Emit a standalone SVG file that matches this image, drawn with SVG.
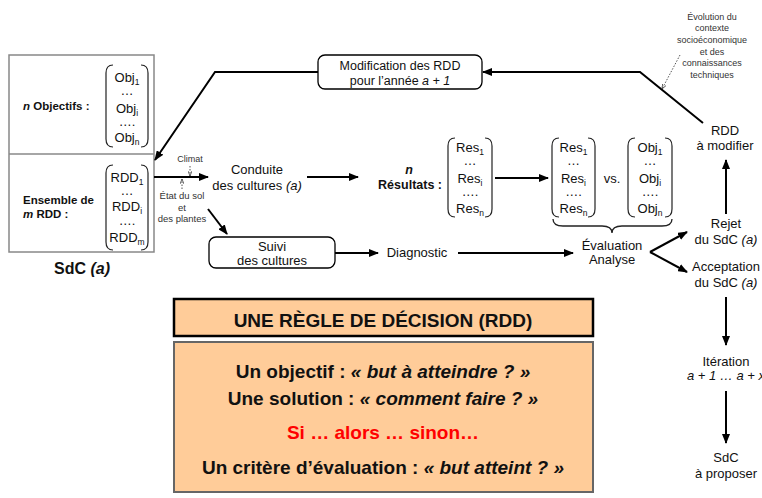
<svg xmlns="http://www.w3.org/2000/svg" width="762" height="498" viewBox="0 0 762 498">
<defs>
<marker id="ah" markerWidth="10" markerHeight="8" refX="9" refY="4" orient="auto" markerUnits="userSpaceOnUse"><path d="M0,0 L10,4 L0,8 z" fill="#000"/></marker>
<marker id="ahs" markerWidth="5" markerHeight="4" refX="5" refY="2" orient="auto" markerUnits="userSpaceOnUse"><path d="M0,0 L5,2 L0,4" fill="none" stroke="#444" stroke-width="0.8"/></marker>
<style>
text{font-family:"Liberation Sans",Arial,sans-serif;fill:#111;}
.t{font-size:13px;text-anchor:middle}
.m{font-size:12.5px;text-anchor:middle}
.sm{font-size:9px;text-anchor:middle;fill:#333}
.lbl{font-size:11.5px;font-weight:bold}
.conn{stroke:#000;stroke-width:2;fill:none}
.dot{stroke:#555;stroke-width:1;stroke-dasharray:1.5 1.5;fill:none}
.par{stroke:#222;stroke-width:1.2;fill:none}
.big{font-size:19px;font-weight:bold;text-anchor:middle}
.sub{font-size:8.5px}
.box{fill:#fff;stroke:#000;stroke-width:1.3}
.peach{fill:#FFCC99}
</style>
</defs>

<g id="sdc">
<rect x="9" y="55" width="145" height="197" fill="#fff" stroke="#888" stroke-width="1.5"/>
<line x1="9" y1="154" x2="154" y2="154" stroke="#888" stroke-width="1.5"/>
<text class="lbl" x="23" y="110"><tspan font-style="italic">n</tspan> Objectifs :</text>
<text class="lbl" x="23" y="204">Ensemble de</text>
<text class="lbl" x="23" y="218"><tspan font-style="italic">m</tspan> RDD :</text>
<path class="par" d="M113,65 Q106,65 106,73 L106,139 Q106,147 113,147"/>
<path class="par" d="M141,65 Q148,65 148,73 L148,139 Q148,147 141,147"/>
<text class="t" x="127" y="82">Obj<tspan class="sub" dy="3">1</tspan></text>
<text class="t" x="127" y="95">…</text>
<text class="t" x="127" y="113">Obj<tspan class="sub" dy="3">i</tspan></text>
<text class="t" x="127" y="126">….</text>
<text class="t" x="127" y="142">Obj<tspan class="sub" dy="3">n</tspan></text>
<path class="par" d="M113,165 Q106,165 106,173 L106,242 Q106,250 113,250"/>
<path class="par" d="M141,165 Q148,165 148,173 L148,242 Q148,250 141,250"/>
<text class="t" x="127" y="182">RDD<tspan class="sub" dy="3">1</tspan></text>
<text class="t" x="127" y="195">…</text>
<text class="t" x="127" y="211">RDD<tspan class="sub" dy="3">i</tspan></text>
<text class="t" x="127" y="225">….</text>
<text class="t" x="127" y="242">RDD<tspan class="sub" dy="3">m</tspan></text>
<text x="82" y="274" style="font-size:16px;font-weight:bold;text-anchor:middle">SdC <tspan font-style="italic">(a)</tspan></text>
</g>

<g id="connectors">
<line class="conn" x1="154" y1="177" x2="208" y2="177" marker-end="url(#ah)"/>
<line class="conn" x1="307" y1="177" x2="358" y2="177" marker-end="url(#ah)"/>
<line class="conn" x1="208" y1="209" x2="227" y2="234" marker-end="url(#ah)"/>
<line class="conn" x1="335" y1="253" x2="378" y2="253" marker-end="url(#ah)"/>
<line class="conn" x1="458" y1="253" x2="573" y2="253" marker-end="url(#ah)"/>
<line class="conn" x1="495" y1="178" x2="548" y2="178" marker-end="url(#ah)"/>
<line class="conn" x1="650" y1="252" x2="687" y2="232" marker-end="url(#ah)"/>
<line class="conn" x1="650" y1="252" x2="687" y2="272" marker-end="url(#ah)"/>
<line class="conn" x1="726" y1="214" x2="726" y2="160" marker-end="url(#ah)"/>
<line class="conn" x1="726" y1="297" x2="726" y2="345" marker-end="url(#ah)"/>
<line class="conn" x1="726" y1="391" x2="726" y2="443" marker-end="url(#ah)"/>
<polyline class="conn" points="703,123 640,72 483,72" marker-end="url(#ah)"/>
<polyline class="conn" points="318,72 215,72 155,160" marker-end="url(#ah)"/>
<line class="dot" x1="680" y1="55" x2="662" y2="89" marker-end="url(#ahs)"/>
<line class="dot" x1="190" y1="166" x2="190" y2="176" marker-end="url(#ahs)"/>
<line class="dot" x1="182" y1="189" x2="182" y2="179" marker-end="url(#ahs)"/>
<path d="M553,219 Q553,226 563,226 L602,226 Q612,226 612,233 Q612,226 622,226 L662,226 Q672,226 672,219" fill="none" stroke="#222" stroke-width="1.3"/>
</g>

<g id="climat">
<text class="sm" x="190" y="162">Climat</text>
</g>
<g id="etat">
<text class="sm" x="182" y="199" style="font-size:9.5px">État du sol</text>
<text class="sm" x="182" y="211" style="font-size:9.5px">et</text>
<text class="sm" x="182" y="222" style="font-size:9.5px">des plantes</text>
</g>

<g id="conduite">
<text class="t" x="257" y="174">Conduite</text>
<text class="t" x="257" y="190">des cultures <tspan font-style="italic">(a)</tspan></text>
</g>

<g id="suivi">
<rect class="box" x="209" y="237" width="126" height="31" rx="7"/>
<text class="t" x="272" y="251">Suivi</text>
<text class="t" x="272" y="265">des cultures</text>
</g>

<g id="diagnostic">
<text class="t" x="417" y="257">Diagnostic</text>
</g>

<g id="resultats">
<text x="409" y="174" style="font-size:12.5px;font-weight:bold;font-style:italic;text-anchor:middle">n</text>
<text x="442" y="189" style="font-size:12.5px;font-weight:bold;text-anchor:end">Résultats :</text>
<path class="par" d="M455,138 Q448,138 448,146 L448,209 Q448,217 455,217"/>
<path class="par" d="M485,138 Q492,138 492,146 L492,209 Q492,217 485,217"/>
<text class="t" x="470" y="152">Res<tspan class="sub" dy="3">1</tspan></text>
<text class="t" x="470" y="165">…</text>
<text class="t" x="470" y="183">Res<tspan class="sub" dy="3">i</tspan></text>
<text class="t" x="470" y="196">….</text>
<text class="t" x="470" y="213">Res<tspan class="sub" dy="3">n</tspan></text>
</g>

<g id="comparaison">
<path class="par" d="M559,138 Q552,138 552,146 L552,209 Q552,217 559,217"/>
<path class="par" d="M588,138 Q595,138 595,146 L595,209 Q595,217 588,217"/>
<text class="t" x="573.5" y="152">Res<tspan class="sub" dy="3">1</tspan></text>
<text class="t" x="573.5" y="165">…</text>
<text class="t" x="573.5" y="183">Res<tspan class="sub" dy="3">i</tspan></text>
<text class="t" x="573.5" y="196">….</text>
<text class="t" x="573.5" y="213">Res<tspan class="sub" dy="3">n</tspan></text>
<text class="t" x="612" y="183">vs.</text>
<path class="par" d="M635,138 Q628,138 628,146 L628,209 Q628,217 635,217"/>
<path class="par" d="M665,138 Q672,138 672,146 L672,209 Q672,217 665,217"/>
<text class="t" x="650" y="152">Obj<tspan class="sub" dy="3">1</tspan></text>
<text class="t" x="650" y="165">…</text>
<text class="t" x="650" y="183">Obj<tspan class="sub" dy="3">i</tspan></text>
<text class="t" x="650" y="196">….</text>
<text class="t" x="650" y="213">Obj<tspan class="sub" dy="3">n</tspan></text>
</g>

<g id="evaluation">
<text class="t" x="612" y="250">Évaluation</text>
<text class="t" x="612" y="264">Analyse</text>
</g>

<g id="rejet">
<text class="t" x="726" y="228">Rejet</text>
<text class="t" x="726" y="244">du SdC <tspan font-style="italic">(a)</tspan></text>
</g>
<g id="acceptation">
<text class="t" x="726" y="271">Acceptation</text>
<text class="t" x="726" y="287">du SdC <tspan font-style="italic">(a)</tspan></text>
</g>
<g id="iteration">
<text class="t" x="726" y="366">Itération</text>
<text class="t" x="726" y="380" font-style="italic">a + 1 … a + x</text>
</g>
<g id="proposer">
<text class="t" x="726" y="462">SdC</text>
<text class="t" x="726" y="478">à proposer</text>
</g>
<g id="rdd-modifier">
<text class="t" x="725" y="135">RDD</text>
<text class="t" x="725" y="150">à modifier</text>
</g>
<g id="evolution">
<text class="sm" x="712" y="20">Évolution du</text>
<text class="sm" x="712" y="31">contexte</text>
<text class="sm" x="712" y="43">socioéconomique</text>
<text class="sm" x="712" y="55">et des</text>
<text class="sm" x="712" y="66">connaissances</text>
<text class="sm" x="712" y="78">techniques</text>
</g>

<g id="modification">
<rect class="box" x="318" y="55" width="164" height="34" rx="7"/>
<text class="m" x="400" y="70">Modification des RDD</text>
<text class="m" x="400" y="85">pour l’année <tspan font-style="italic">a + 1</tspan></text>
</g>

<g id="titre-rdd">
<rect class="peach" x="174" y="299" width="419" height="37" stroke="#000" stroke-width="2.5"/>
<text class="big" x="383" y="327">UNE RÈGLE DE DÉCISION (RDD)</text>
</g>

<g id="definition-rdd">
<rect class="peach" x="174" y="342" width="419" height="150" stroke="#666" stroke-width="2"/>
<text class="big" x="383" y="378">Un objectif : <tspan font-style="italic">« but à atteindre ? »</tspan></text>
<text class="big" x="383" y="405">Une solution : <tspan font-style="italic">« comment faire ? »</tspan></text>
<text class="big" x="383" y="439" style="fill:#FF0000">Si … alors … sinon…</text>
<text class="big" x="383" y="474">Un critère d’évaluation : <tspan font-style="italic">« but atteint ? »</tspan></text>
</g>
</svg>
